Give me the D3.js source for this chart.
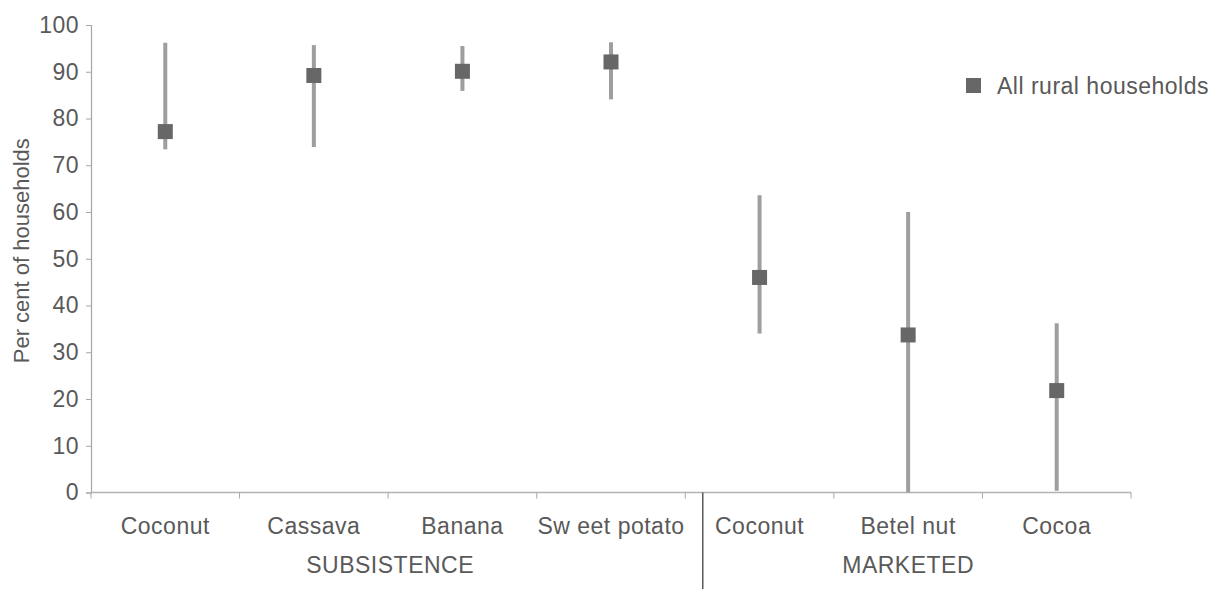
<!DOCTYPE html>
<html>
<head>
<meta charset="utf-8">
<script src="https://cdn.jsdelivr.net/npm/d3@7"></script>
<style>
  html, body { margin: 0; padding: 0; background: #fff; }
  svg text { font-family: "Liberation Sans", Arial, sans-serif; fill: #595959; letter-spacing: 0.5px; }
</style>
</head>
<body>
<svg id="chart" width="1216" height="589"></svg>
<script>
// Crop categories, grouped by how the produce is used
const categories = ["Coconut", "Cassava", "Banana", "Sw eet potato", "Coconut", "Betel nut", "Cocoa"];
const groups = ["SUBSISTENCE", "SUBSISTENCE", "SUBSISTENCE", "SUBSISTENCE", "MARKETED", "MARKETED", "MARKETED"];
// Share of all rural households (%) with the range shown by the whiskers
const meanValues = [77.2, 89.2, 90.1, 92.1, 46.0, 33.7, 21.8];
const lowValues  = [73.4, 73.9, 85.9, 84.1, 34.0, 0.0, 0.4];
const highValues = [96.2, 95.7, 95.5, 96.3, 63.6, 60.0, 36.2];
const yTicks = [0, 10, 20, 30, 40, 50, 60, 70, 80, 90, 100];
const seriesName = "All rural households";

const svg = d3.select("#chart");
const plotLeft = 91, plotRight = 1131, plotTop = 25, plotBottom = 492.5;
const fontSize = "23px";

const x = d3.scaleBand().domain(d3.range(categories.length)).range([plotLeft, plotRight]).padding(0);
const y = d3.scaleLinear().domain([0, 100]).range([plotBottom, plotTop]);

// Y axis
const yAxis = svg.append("g").attr("transform", `translate(${plotLeft},0)`)
  .call(d3.axisLeft(y).tickValues(yTicks).tickSize(5).tickPadding(7));
yAxis.select(".domain").attr("stroke", "#a6a6a6").attr("stroke-width", 1.2);
yAxis.selectAll(".tick line").attr("stroke", "#a6a6a6");
yAxis.selectAll(".tick text").style("font-size", fontSize).attr("fill", "#595959")
  .attr("font-family", "Liberation Sans, Arial, sans-serif");

// X axis baseline and category boundary ticks
svg.append("line").attr("x1", plotLeft).attr("x2", plotRight).attr("y1", y(0)).attr("y2", y(0))
  .attr("stroke", "#b3b3b3").attr("stroke-width", 1.5);
const bounds = d3.range(categories.length + 1).map(i => i < categories.length ? x(i) : plotRight);
svg.selectAll(".xtick").data(bounds).join("line")
  .attr("x1", d => d).attr("x2", d => d)
  .attr("y1", y(0)).attr("y2", y(0) + 6)
  .attr("stroke", "#a6a6a6").attr("stroke-width", 1);

// Category labels
svg.selectAll(".cat").data(categories).join("text")
  .attr("x", (d, i) => x(i) + x.bandwidth() / 2)
  .attr("y", 534)
  .attr("text-anchor", "middle")
  .style("font-size", fontSize)
  .text(d => d);

// Group labels and divider between groups
const groupNames = Array.from(new Set(groups));
groupNames.forEach(g => {
  const idx = groups.map((v, i) => v === g ? i : -1).filter(i => i >= 0);
  const x0 = x(idx[0]), x1 = x(idx[idx.length - 1]) + x.bandwidth();
  svg.append("text")
    .attr("x", (x0 + x1) / 2 + (g === "SUBSISTENCE" ? 2 : 0))
    .attr("y", 573)
    .attr("text-anchor", "middle")
    .style("font-size", fontSize)
    .text(g);
});
const splitIdx = groups.indexOf("MARKETED");
svg.append("line")
  .attr("x1", x(splitIdx) + 17.5).attr("x2", x(splitIdx) + 17.5)
  .attr("y1", y(0)).attr("y2", 589)
  .attr("stroke", "#404040").attr("stroke-width", 1.3);

// Range whiskers
svg.selectAll(".range").data(categories).join("line")
  .attr("x1", (d, i) => x(i) + x.bandwidth() / 2)
  .attr("x2", (d, i) => x(i) + x.bandwidth() / 2)
  .attr("y1", (d, i) => y(lowValues[i]))
  .attr("y2", (d, i) => y(highValues[i]))
  .attr("stroke", "#9e9e9e").attr("stroke-width", 4);

// Markers
const m = 15;
svg.selectAll(".marker").data(meanValues).join("rect")
  .attr("x", (d, i) => x(i) + x.bandwidth() / 2 - m / 2)
  .attr("y", d => y(d) - m / 2)
  .attr("width", m).attr("height", m)
  .attr("fill", "#676767");

// Legend
svg.append("rect").attr("x", 966).attr("y", 78).attr("width", 15).attr("height", 15).attr("fill", "#676767");
svg.append("text").attr("x", 997).attr("y", 94).style("font-size", fontSize).text(seriesName);

// Y axis title
svg.append("text")
  .attr("transform", `translate(29,${(plotTop + plotBottom) / 2 - 8}) rotate(-90)`)
  .attr("text-anchor", "middle")
  .style("font-size", "22px")
  .style("letter-spacing", "0px")
  .text("Per cent of households");
</script>
</body>
</html>
